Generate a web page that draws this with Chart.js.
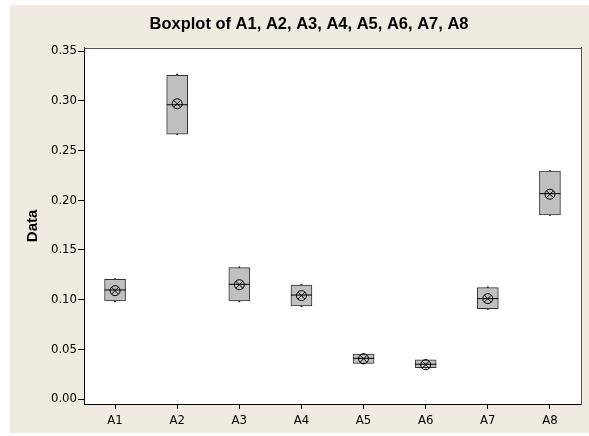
<!DOCTYPE html>
<html>
<head>
<meta charset="utf-8">
<script src="https://cdn.jsdelivr.net/npm/chart.js@4.4.0/dist/chart.umd.min.js"></script>
<style>
  html, body { margin: 0; padding: 0; width: 589px; height: 436px; overflow: hidden; background: #fff; }
  #wrap { position: absolute; left: 10px; top: 5px; width: 598px; height: 428px; background: #efebe1; }
</style>
</head>
<body>
<div id="wrap"><canvas id="boxplot"></canvas></div>
<script>
// values
const categories = ['A1', 'A2', 'A3', 'A4', 'A5', 'A6', 'A7', 'A8'];
const minValues = [0.0978, 0.2660, 0.0978, 0.0928, 0.0352, 0.0310, 0.0902, 0.1848];
const q1Values = [0.0986, 0.2663, 0.0986, 0.0936, 0.0359, 0.0315, 0.0910, 0.1851];
const medianValues = [0.1097, 0.2960, 0.1154, 0.1046, 0.0409, 0.0350, 0.1010, 0.2066];
const q3Values = [0.1204, 0.3256, 0.1321, 0.1147, 0.0453, 0.0395, 0.1120, 0.2294];
const maxValues = [0.1212, 0.3268, 0.1329, 0.1155, 0.0458, 0.0400, 0.1128, 0.2298];
const meanValues = [0.1090, 0.2970, 0.1150, 0.1040, 0.0405, 0.0345, 0.1010, 0.2060];
const yTicks = [0.00, 0.05, 0.10, 0.15, 0.20, 0.25, 0.30, 0.35];

const ctx = document.getElementById('boxplot').getContext('2d');

const tickFont = { family: 'DejaVu Sans Condensed', size: 13 };

// white plot area, thin line on top (right side comes from the empty right axis)
const plotFrame = {
    id: 'plotFrame',
    beforeDraw(chart) {
        const a = chart.chartArea;
        const c = chart.ctx;
        c.save();
        c.fillStyle = '#ffffff';
        c.fillRect(a.left, a.top, a.right - a.left, a.bottom - a.top);
        c.restore();
    },
    afterDraw(chart) {
        const a = chart.chartArea;
        const c = chart.ctx;
        c.save();
        c.strokeStyle = '#555555';
        c.lineWidth = 1;
        c.beginPath();
        c.moveTo(Math.round(a.left) + 0.5, Math.round(a.top) + 0.5);
        c.lineTo(Math.round(a.right), Math.round(a.top) + 0.5);
        c.stroke();
        c.restore();
    }
};

new Chart(ctx, {
    type: 'bar',
    data: {
        labels: categories,
        datasets: [
            {
                label: 'whisker',
                data: categories.map((c, i) => [minValues[i], maxValues[i]]),
                backgroundColor: '#000000',
                borderWidth: 0,
                barThickness: 1,
                grouped: false,
                order: 5
            },
            {
                label: 'box',
                data: categories.map((c, i) => [q1Values[i], q3Values[i]]),
                backgroundColor: '#c0c0c0',
                borderColor: '#333333',
                borderWidth: 1,
                borderSkipped: false,
                barThickness: 21,
                grouped: false,
                order: 4
            },
            {
                type: 'line',
                label: 'median',
                data: medianValues,
                showLine: false,
                pointStyle: 'line',
                pointRadius: 10.5,
                pointBorderWidth: 1,
                pointBorderColor: '#000000',
                order: 3
            },
            {
                type: 'line',
                label: 'mean',
                data: meanValues,
                showLine: false,
                pointStyle: 'circle',
                pointRadius: 5,
                pointBorderWidth: 1,
                pointBorderColor: '#000000',
                pointBackgroundColor: 'rgba(0,0,0,0)',
                order: 2
            },
            {
                type: 'line',
                label: 'mean x',
                data: meanValues,
                showLine: false,
                pointStyle: 'crossRot',
                pointRadius: 5,
                pointBorderWidth: 1,
                pointBorderColor: '#000000',
                order: 1
            }
        ]
    },
    options: {
        responsive: true,
        maintainAspectRatio: false,
        animation: false,
        layout: { padding: 0 },
        plugins: {
            legend: { display: false },
            tooltip: { enabled: false },
            title: {
                display: true,
                text: 'Boxplot of A1, A2, A3, A4, A5, A6, A7, A8',
                color: '#000000',
                font: { family: 'Liberation Sans', size: 16.5, weight: 'bold' },
                padding: { top: 10, bottom: 13 }
            }
        },
        scales: {
            x: {
                offset: true,
                grid: { offset: false, drawOnChartArea: false, drawTicks: true, tickLength: 5, color: '#000000' },
                border: { display: true, color: '#000000', width: 1 },
                ticks: { color: '#000000', font: tickFont, padding: 4, maxRotation: 0 },
                afterFit(scale) { scale.height = 29; }
            },
            y: {
                min: -0.005,
                max: 0.3533,
                grid: { drawOnChartArea: false, drawTicks: true, tickLength: 6, color: '#000000' },
                border: { display: true, color: '#000000', width: 1 },
                ticks: {
                    color: '#000000',
                    font: tickFont,
                    padding: 1,
                    callback: v => v.toFixed(2)
                },
                afterBuildTicks(scale) {
                    scale.ticks = yTicks.map(v => ({ value: v }));
                },
                title: {
                    display: true,
                    text: 'Data',
                    color: '#000000',
                    font: { family: 'Liberation Sans', size: 15, weight: 'bold' },
                    padding: { top: 14.3, bottom: 0 }
                },
                afterFit(scale) { scale.width = 74; }
            },
            // empty axis on the right: gives the frame its right edge and keeps the title centred like the original
            yRight: {
                position: 'right',
                grid: { display: false },
                ticks: { display: false },
                border: { display: true, color: '#555555', width: 1 },
                afterFit(scale) { scale.width = 27; }
            }
        }
    },
    plugins: [plotFrame]
});
</script>
</body>
</html>
